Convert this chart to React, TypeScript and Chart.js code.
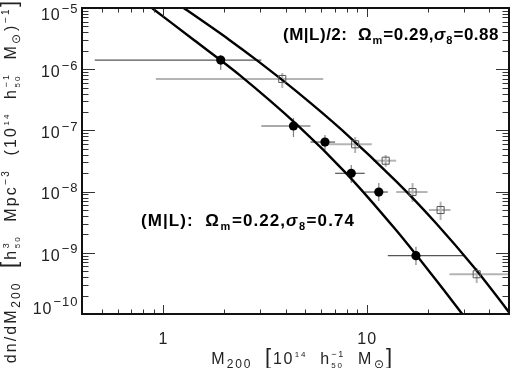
import React, { useEffect, useRef } from 'react';
import { Chart, registerables } from 'chart.js';

Chart.register(...registerables);

// ---- data ----
const circleMass = [1.92, 4.37, 6.24, 8.4, 11.47, 17.46];
const circleDensity = [1.41e-6, 1.18e-7, 6.45e-8, 1.99e-8, 9.84e-9, 8.97e-10];
const circleMassLo = [0.462, 3.04, 5.3, 7.0, 9.78, 12.7];
const circleMassHi = [3.04, 5.3, 7.0, 9.78, 12.7, 30.1];
const circleDensityLo = [9.7e-7, 7.8e-8, 4.8e-8, 1.38e-8, 7.0e-9, 6.3e-10];
const circleDensityHi = [1.71e-6, 1.6e-7, 8.4e-8, 2.72e-8, 1.38e-8, 1.26e-9];

const squareMass = [3.85, 8.78, 12.4, 16.8, 23.07, 34.7];
const squareDensity = [6.92e-7, 5.93e-8, 3.2e-8, 9.84e-9, 5.0e-9, 4.46e-10];
const squareMassLo = [0.922, 6.4, 10.8, 13.96, 20.2, 25.5];
const squareMassHi = [6.12, 10.6, 13.96, 19.9, 25.8, 60];
const squareDensityLo = [4.93e-7, 4.27e-8, 2.55e-8, 6.76e-9, 3.44e-9, 3.2e-10];
const squareDensityHi = [8.67e-7, 7.8e-8, 3.96e-8, 1.38e-8, 6.84e-9, 5.65e-10];

const lowerCurveMass = [0.69, 0.882, 1.423, 2.371, 4.585, 8.004, 13.97, 21.81, 29.47, 34.83];
const lowerCurveDensity = [1.846e-5, 1e-5, 2.966e-6, 8.07e-7, 1.211e-7, 1.935e-8, 2.332e-9, 3.662e-10, 9.98e-11, 4.8e-11];
const upperCurveMass = [1.0775, 1.263, 2.102, 2.937, 4.585, 7.569, 13.97, 21.81, 34.05, 50.29, 59.43];
const upperCurveDensity = [1.424e-5, 1e-5, 3.068e-6, 1.341e-6, 4.177e-7, 1.008e-7, 1.468e-8, 3.092e-9, 5.516e-10, 1.042e-10, 4.874e-11];

const xMin = 0.4;
const xMax = 50;
const yMin = 1e-10;
const yMax = 1e-5;
const xMajorTicks = [1, 10];
const xMajorLabels = ['1', '10'];
const xMinorTicks = [0.4, 0.5, 0.6, 0.7, 0.8, 0.9, 2, 3, 4, 5, 6, 7, 8, 9, 20, 30, 40, 50];
const yMajorExponents = [-10, -9, -8, -7, -6, -5];
const yMinorMantissas = [2, 3, 4, 5, 6, 7, 8, 9];

type Seg = {
  t?: string;
  sub?: string;
  sup?: string;
  size?: number;
  subSize?: number;
  supSize?: number;
  italic?: boolean;
};

const upperNote: Seg[] = [
  { t: '(M|L)/2:  Ω', sub: 'm' },
  { t: '=0.29,' },
  { t: 'σ', italic: true, sub: '8' },
  { t: '=0.88' },
];
const lowerNote: Seg[] = [
  { t: '(M|L):  Ω', sub: 'm' },
  { t: '=0.22,' },
  { t: 'σ', italic: true, sub: '8' },
  { t: '=0.74' },
];
const xTitle: Seg[] = [
  { t: 'M', sub: '200', subSize: 12 },
  { t: '  ' },
  { t: '[', size: 22 },
  { t: '10', sup: '14', supSize: 8 },
  { t: '  h', sub: '50', sup: '−1', subSize: 8, supSize: 9 },
  { t: '  M', sub: '⊙', subSize: 12 },
  { t: ']', size: 22 },
];
const yTitle: Seg[] = [
  { t: 'dn/dM', sub: '200', subSize: 12 },
  { t: '  ' },
  { t: '[', size: 22 },
  { t: 'h', sub: '50', sup: '3', subSize: 8, supSize: 9 },
  { t: '  Mpc', sup: '−3', supSize: 10 },
  { t: '  (10', sup: '14', supSize: 8 },
  { t: '  h', sub: '50', sup: '−1', subSize: 8, supSize: 9 },
  { t: '  M', sub: '⊙', subSize: 12 },
  { t: ')', sup: '−1', supSize: 10 },
  { t: ']', size: 22 },
];

const FAMILY = '"Liberation Sans", Arial, Helvetica, sans-serif';

function font(size: number, bold: boolean, italic?: boolean) {
  return `${italic ? 'italic ' : ''}${bold ? 'bold ' : ''}${size}px ${FAMILY}`;
}

function rich(
  ctx: CanvasRenderingContext2D,
  segs: Seg[],
  x: number,
  y: number,
  base: number,
  bold: boolean,
  draw: boolean,
  spacing = 0
): number {
  let cx = x;
  ctx.textAlign = 'left';
  ctx.textBaseline = 'alphabetic';
  (ctx as any).letterSpacing = spacing + 'px';
  for (const s of segs) {
    let w = 0;
    if (s.t) {
      const size = s.size ?? base;
      ctx.font = font(size, bold, s.italic);
      if (draw) ctx.fillText(s.t, cx, y);
      w = ctx.measureText(s.t).width;
    }
    let w2 = 0;
    if (s.sub) {
      ctx.font = font(s.subSize ?? Math.round(base * 0.66), bold, false);
      if (draw) ctx.fillText(s.sub, cx + w + 0.5, y + base * 0.28);
      w2 = Math.max(w2, ctx.measureText(s.sub).width + 1);
    }
    if (s.sup) {
      ctx.font = font(s.supSize ?? Math.round(base * 0.66), bold, false);
      if (draw) ctx.fillText(s.sup, cx + w + 0.5, y - base * 0.45);
      w2 = Math.max(w2, ctx.measureText(s.sup).width + 1);
    }
    cx += w + w2;
  }
  (ctx as any).letterSpacing = '0px';
  return cx - x;
}

function charCount(segs: Seg[]) {
  return segs.reduce((n, s) => n + (s.t ? s.t.length : 0) + (s.sub ? s.sub.length : 0), 0);
}

function fitted(ctx: CanvasRenderingContext2D, segs: Seg[], base: number, bold: boolean, target: number) {
  const w = rich(ctx, segs, 0, 0, base, bold, false, 0);
  return Math.max(0, (target - w) / charCount(segs));
}

const errorBarPlugin = {
  id: 'errorBars',
  beforeDatasetsDraw(chart: any) {
    const { ctx, scales } = chart;
    const xs = scales.x;
    const ys = scales.y;
    const area = chart.chartArea;
    ctx.save();
    ctx.beginPath();
    ctx.rect(area.left, area.top, area.right - area.left, area.bottom - area.top);
    ctx.clip();
    const drawSet = (
      mx: number[], my: number[], xl: number[], xh: number[], yl: number[], yh: number[],
      hColor: string, vColor: string, width: number
    ) => {
      for (let i = 0; i < mx.length; i++) {
        const px = xs.getPixelForValue(mx[i]);
        const py = ys.getPixelForValue(my[i]);
        ctx.lineWidth = width;
        ctx.strokeStyle = hColor;
        ctx.beginPath();
        ctx.moveTo(xs.getPixelForValue(xl[i]), py);
        ctx.lineTo(xs.getPixelForValue(xh[i]), py);
        ctx.stroke();
        ctx.strokeStyle = vColor;
        ctx.beginPath();
        ctx.moveTo(px, ys.getPixelForValue(yl[i]));
        ctx.lineTo(px, ys.getPixelForValue(yh[i]));
        ctx.stroke();
      }
    };
    drawSet(squareMass, squareDensity, squareMassLo, squareMassHi, squareDensityLo, squareDensityHi, '#b4b4b4', '#b4b4b4', 2);
    drawSet(circleMass, circleDensity, circleMassLo, circleMassHi, circleDensityLo, circleDensityHi, '#555555', '#808080', 1.2);
    ctx.restore();
  },
};

const framePlugin = {
  id: 'frame',
  afterDraw(chart: any) {
    const { ctx, scales } = chart;
    const xs = scales.x;
    const ys = scales.y;
    const { left, right, top, bottom } = chart.chartArea;
    ctx.save();
    ctx.fillStyle = '#000';
    ctx.strokeStyle = '#333';
    ctx.lineWidth = 1;
    const vTick = (v: number, len: number) => {
      const px = Math.round(xs.getPixelForValue(v)) + 0.5;
      ctx.beginPath();
      ctx.moveTo(px, bottom);
      ctx.lineTo(px, bottom - len);
      ctx.moveTo(px, top);
      ctx.lineTo(px, top + len);
      ctx.stroke();
    };
    const hTick = (v: number, len: number) => {
      const py = Math.round(ys.getPixelForValue(v)) + 0.5;
      ctx.beginPath();
      ctx.moveTo(left, py);
      ctx.lineTo(left + len, py);
      ctx.moveTo(right, py);
      ctx.lineTo(right - len, py);
      ctx.stroke();
    };
    xMajorTicks.forEach((v) => vTick(v, 9));
    xMinorTicks.forEach((v) => vTick(v, 4.5));
    yMajorExponents.forEach((e) => {
      hTick(Math.pow(10, e), 13);
      if (e < -5) yMinorMantissas.forEach((m) => hTick(m * Math.pow(10, e), 6.5));
    });
    ctx.strokeStyle = '#111';
    ctx.lineWidth = 2;
    ctx.strokeRect(left, top, right - left, bottom - top);

    // y tick labels
    ctx.fillStyle = '#222';
    yMajorExponents.forEach((e) => {
      const py = ys.getPixelForValue(Math.pow(10, e));
      let b = py + 7.8;
      if (b < 20) b = 20;
      if (b > bottom - 0.5) b = bottom - 0.5;
      const supTxt = '−' + String(-e);
      (ctx as any).letterSpacing = '1px';
      ctx.font = font(13, false);
      const ws = ctx.measureText(supTxt).width;
      ctx.font = font(16, false);
      const wb = ctx.measureText('10').width;
      const xr = 78.5;
      ctx.textAlign = 'left';
      ctx.textBaseline = 'alphabetic';
      ctx.fillText('10', xr - ws - 1 - wb, b);
      ctx.font = font(13, false);
      ctx.fillText(supTxt, xr - ws, b - 7.4);
      (ctx as any).letterSpacing = '0px';
    });
    // x tick labels
    ctx.font = font(16, false);
    ctx.textAlign = 'center';
    (ctx as any).letterSpacing = '1px';
    xMajorTicks.forEach((v, i) => {
      ctx.fillText(xMajorLabels[i], xs.getPixelForValue(v) + 0.5, 344);
    });
    (ctx as any).letterSpacing = '0px';

    // x title
    const sx = fitted(ctx, xTitle, 16, false, 179);
    const wx = rich(ctx, xTitle, 0, 0, 16, false, false, sx);
    rich(ctx, xTitle, 302.5 - wx / 2, 364, 16, false, true, sx);

    // y title (rotated)
    const sy = fitted(ctx, yTitle, 16, false, 352);
    const wy = rich(ctx, yTitle, 0, 0, 16, false, false, sy);
    ctx.save();
    ctx.translate(16, 181);
    ctx.rotate(-Math.PI / 2);
    rich(ctx, yTitle, -wy / 2, 0, 16, false, true, sy);
    ctx.restore();

    // annotations
    ctx.fillStyle = '#000';
    const su = fitted(ctx, upperNote, 17, true, 216);
    rich(ctx, upperNote, 283, 39.5, 17, true, true, su);
    const sl = fitted(ctx, lowerNote, 17, true, 214);
    rich(ctx, lowerNote, 141, 225.5, 17, true, true, sl);
    ctx.restore();
  },
};

export default function App() {
  const ref = useRef<HTMLCanvasElement | null>(null);
  useEffect(() => {
    if (!ref.current) return;
    const pts = (xs: number[], ys: number[]) => xs.map((x, i) => ({ x, y: ys[i] }));
    const curveStyle = {
      type: 'line',
      borderColor: '#000',
      borderWidth: 2.4,
      pointRadius: 0,
      tension: 0.3,
      showLine: true,
      fill: false,
    };
    const chart = new Chart(ref.current, {
      type: 'scatter',
      data: {
        datasets: [
          {
            label: 'M/L',
            data: pts(circleMass, circleDensity),
            pointStyle: 'circle',
            pointRadius: 4.6,
            backgroundColor: '#000',
            borderColor: '#000',
            borderWidth: 0,
          },
          {
            label: 'M/L / 2',
            data: pts(squareMass, squareDensity),
            pointStyle: 'rect',
            pointRadius: 5,
            backgroundColor: 'rgba(0,0,0,0)',
            borderColor: '#555',
            borderWidth: 1,
          },
          {
            ...curveStyle,
            label: 'Ωm=0.22, σ8=0.74',
            data: pts(lowerCurveMass, lowerCurveDensity),
          } as any,
          {
            ...curveStyle,
            label: 'Ωm=0.29, σ8=0.88',
            data: pts(upperCurveMass, upperCurveDensity),
          } as any,
        ],
      },
      options: {
        animation: false,
        responsive: false,
        devicePixelRatio: 1,
        events: [],
        elements: { line: { capBezierPoints: false } },
        layout: { padding: { left: 82, right: 1, top: 8, bottom: 54 } },
        plugins: { legend: { display: false }, tooltip: { enabled: false } },
        scales: {
          x: { type: 'logarithmic', min: xMin, max: xMax, display: false },
          y: { type: 'logarithmic', min: yMin, max: yMax, display: false },
        },
      },
      plugins: [errorBarPlugin, framePlugin],
    });
    return () => chart.destroy();
  }, []);
  return (
    <div style={{ position: 'fixed', left: 0, top: 0, width: 515, height: 368, background: '#fff' }}>
      <canvas ref={ref} width={515} height={368} style={{ width: 515, height: 368, display: 'block' }} />
    </div>
  );
}
